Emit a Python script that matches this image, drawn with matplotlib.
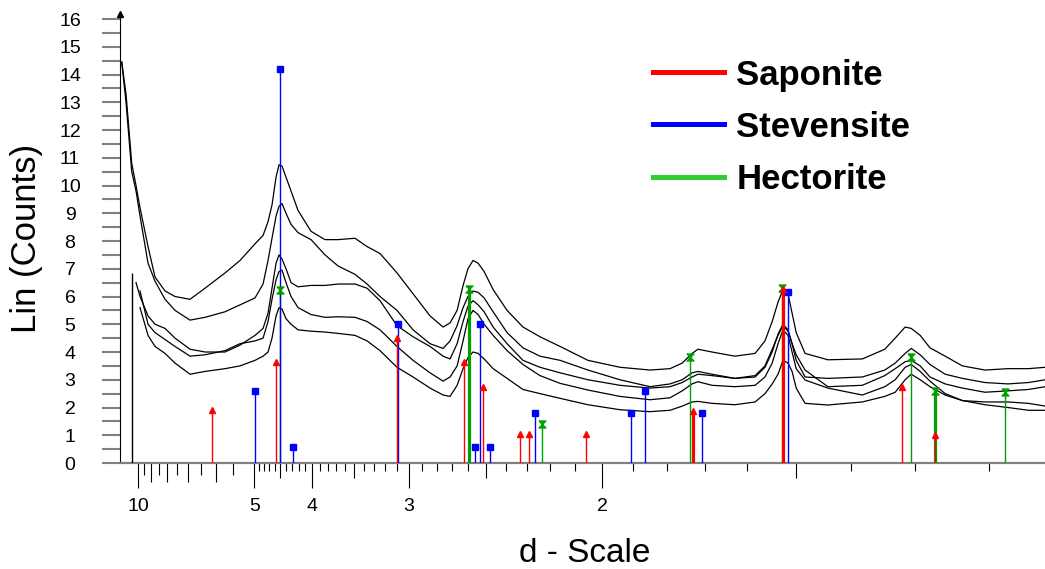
import numpy as np
import matplotlib.pyplot as plt
from matplotlib.lines import Line2D

plt.rcParams['font.family'] = ['Liberation Sans', 'DejaVu Sans']

nan = np.nan

d_grid = [
    11.670, 11.186, 10.603, 10.202, 9.856, 9.228, 8.741, 8.129, 7.597, 6.917,
    6.349, 5.723, 5.328, 4.985, 4.819, 4.721, 4.646, 4.572, 4.519, 4.467,
    4.399, 4.317, 4.207, 4.018, 3.832, 3.674, 3.487, 3.365, 3.243, 3.096,
    2.969, 2.845, 2.757, 2.712, 2.668, 2.632, 2.603, 2.574, 2.545, 2.512,
    2.464, 2.393, 2.317, 2.241, 2.157, 2.051, 1.941, 1.848, 1.791, 1.758,
    1.732, 1.717, 1.682, 1.628, 1.583, 1.562, 1.547, 1.535, 1.525, 1.515,
    1.507, 1.499, 1.482, 1.440, 1.381, 1.345, 1.329, 1.314, 1.305, 1.292,
    1.278, 1.257, 1.234, 1.205, 1.177, 1.153, 1.134,
]

scan_1 = [
    14.45, 13.3, 10.8, 10.0, 9.2, 7.8, 6.7, 6.2, 6.0, 5.9,
    6.3, 6.85, 7.3, 7.9, 8.2, 8.7, 9.3, 10.3, 10.75, 10.7,
    10.3, 9.8, 9.1, 8.35, 8.05, 8.05, 8.1, 7.8, 7.55, 6.85,
    6.1, 5.3, 4.9, 5.05, 5.5, 6.4, 7.0, 7.3, 7.2, 6.9,
    6.25, 5.5, 4.9, 4.55, 4.2, 3.7, 3.45, 3.35, 3.4, 3.6,
    3.95, 4.1, 4.0, 3.85, 3.95, 4.4, 5.1, 5.8, 6.25, 6.1,
    5.4, 4.7, 3.95, 3.72, 3.75, 4.1, 4.5, 4.9, 4.85, 4.6,
    4.15, 3.85, 3.5, 3.35, 3.4, 3.4, 3.45,
]
scan_2 = [
    14.45, 13.0, 10.5, 9.8, 8.9, 7.2, 6.55, 5.9, 5.5, 5.15,
    5.25, 5.45, 5.7, 5.95, 6.45, 7.3, 8.1, 8.9, 9.25, 9.35,
    9.0, 8.6, 8.3, 8.05, 7.5, 7.1, 6.8, 6.45, 6.0, 5.5,
    4.8, 4.3, 4.13, 4.4, 4.95, 5.6, 6.0, 6.2, 6.15, 5.95,
    5.45, 4.7, 4.15, 3.85, 3.7, 3.35, 3.0, 2.75, 2.85, 3.0,
    3.25, 3.3, 3.2, 3.05, 3.1, 3.45, 4.0, 4.65, 5.0, 4.8,
    4.3, 3.7, 3.1, 3.05, 3.1, 3.35, 3.6, 3.95, 4.13, 3.9,
    3.55, 3.2, 3.05, 2.9, 2.85, 2.9, 3.0,
]
scan_3 = [
    nan, nan, nan, 6.5, 6.0, 5.3, 5.0, 4.85, 4.5, 4.1,
    4.0, 4.0, 4.25, 4.6, 4.85, 5.4, 6.3, 7.2, 7.5, 7.35,
    7.0, 6.5, 6.35, 6.4, 6.4, 6.45, 6.45, 6.3, 5.85, 4.95,
    4.55, 4.2, 3.85, 3.75, 4.3, 5.1, 5.65, 5.85, 5.7, 5.45,
    4.9, 4.3, 3.7, 3.45, 3.25, 3.0, 2.8, 2.7, 2.75, 2.9,
    3.1, 3.2, 3.15, 3.05, 3.15, 3.5, 4.1, 4.6, 4.95, 4.75,
    4.3, 3.9, 3.35, 2.75, 2.8, 3.15, 3.4, 3.65, 3.7, 3.5,
    3.1, 2.85, 2.7, 2.55, 2.6, 2.65, 2.75,
]
scan_4 = [
    nan, nan, nan, nan, 6.2, 5.0, 4.7, 4.45, 4.2, 3.85,
    3.9, 4.05, 4.3, 4.4, 4.5, 5.1, 5.9, 6.6, 6.9, 6.95,
    6.5, 6.0, 5.6, 5.35, 5.25, 5.27, 5.25, 5.1, 4.8, 4.2,
    3.7, 3.25, 2.95, 3.1, 3.5, 4.4, 5.2, 5.5, 5.35, 5.0,
    4.6, 4.05, 3.55, 3.15, 2.87, 2.63, 2.4, 2.28, 2.35, 2.6,
    2.85, 2.93, 2.8, 2.75, 2.8, 3.1, 3.6, 4.3, 4.8, 4.6,
    4.0, 3.4, 2.99, 2.7, 2.45, 2.75, 3.0, 3.45, 3.55, 3.3,
    2.95, 2.5, 2.25, 2.2, 2.2, 2.15, 2.05,
]
scan_5 = [
    nan, nan, nan, nan, 5.6, 4.6, 4.2, 3.95, 3.6, 3.2,
    3.3, 3.4, 3.5, 3.7, 3.85, 4.0, 4.5, 5.3, 5.6, 5.55,
    5.2, 5.0, 4.8, 4.75, 4.72, 4.67, 4.6, 4.4, 4.05, 3.45,
    3.1, 2.7, 2.45, 2.4, 2.8, 3.4, 3.8, 4.0, 3.95, 3.75,
    3.4, 3.05, 2.65, 2.5, 2.33, 2.1, 1.92, 1.85, 1.9, 2.05,
    2.2, 2.22, 2.15, 2.1, 2.2, 2.5, 2.85, 3.2, 3.7, 3.6,
    3.3, 2.7, 2.15, 2.09, 2.2, 2.4, 2.55, 3.0, 3.2, 3.0,
    2.75, 2.45, 2.25, 2.1, 2.0, 1.9, 1.9,
]
scans = [scan_1, scan_2, scan_3, scan_4, scan_5]

# reference stick patterns: d (Angstrom) and height (counts)
saponite_d = [6.105, 4.567, 3.093, 2.624, 2.520, 2.332, 2.288, 2.059, 1.730, 1.5255, 1.319, 1.271]
saponite_h = [1.9, 3.64, 4.5, 3.63, 2.75, 1.03, 1.03, 1.03, 1.89, 6.26, 2.75, 1.0]
stevensite_d = [4.979, 4.507, 4.28, 3.090, 2.561, 2.533, 2.482, 2.264, 1.905, 1.864, 1.706, 1.515]
stevensite_h = [2.6, 14.2, 0.59, 5.0, 0.59, 5.0, 0.59, 1.79, 1.79, 2.61, 1.79, 6.17]
hectorite_d = [4.50, 2.599, 2.233, 1.7365, 1.526, 1.305, 1.271, 1.180]
hectorite_h = [6.25, 6.26, 1.39, 3.81, 6.3, 3.81, 2.6, 2.57]
other_d = [10.574]
other_h = [6.85]

phase_names = ['Saponite', 'Stevensite', 'Hectorite']

# d-scale ticks
major_d = [10, 5, 4, 3, 2]
major_labels = ['10', '5', '4', '3', '2']
mid_d = [9, 8, 7, 6]
half_d = [4.5, 3.5, 2.5, 1.5]
fine_d = [9.5, 8.5, 7.5, 6.5, 5.5]
tenth_d = [4.9, 4.8, 4.7, 4.6, 4.4, 4.3, 4.2, 4.1, 3.9, 3.8, 3.7, 3.6, 3.4, 3.3,
           3.2, 3.1, 2.9, 2.8, 2.7, 2.6, 2.4, 2.3, 2.2, 2.1, 1.9, 1.8, 1.7, 1.6,
           1.4, 1.3, 1.2]


def inv(d):
    # the scale is linear in 1/d
    return 1.0 / np.asarray(d, dtype=float)


fig = plt.figure(figsize=(10.45, 5.69), dpi=100)
ax = fig.add_axes([120 / 1045, 106 / 569, 925 / 1045, 449.5 / 569])

for s in scans:
    ax.plot(inv(d_grid), s, color='black', lw=0.9, zorder=2)


def sticks(d, h, color, marker, ms, wide=()):
    x = inv(d)
    lws = [2.3 if v in wide else 1.0 for v in d]
    ax.vlines(x, 0, h, colors=color, linewidths=lws, zorder=3)
    if marker is not None:
        ax.plot(x, h, ls='none', marker=marker, ms=ms, color=color,
                mec=color, zorder=4, clip_on=False)


hourglass = [(-1, 1), (1, 1), (-1, -1), (1, -1), (-1, 1)]
sticks(other_d, other_h, 'black', None, 0)
sticks(hectorite_d, hectorite_h, '#00a000', hourglass, 5, wide=(2.599, 1.271))
sticks(stevensite_d, stevensite_h, '#0000ff', 's', 4)
sticks(saponite_d, saponite_h, '#ff0000', '^', 5, wide=(1.730, 1.5255))

ax.set_xlim(0.0842, 0.8816)
ax.set_ylim(0, 16.2)

# x ticks in several lengths
ax.set_xticks(inv(major_d))
ax.set_xticklabels(major_labels)
ax.set_xticks(inv(tenth_d), minor=True)
ax.tick_params(axis='x', which='major', direction='out', length=18, width=0.8,
               color='black', pad=7, labelsize=14)
ax.tick_params(axis='x', which='minor', direction='out', length=5.8, width=0.8,
               color='black')

sec1 = ax.secondary_xaxis('bottom', functions=(lambda v: v, lambda v: v))
sec1.set_xticks(inv(mid_d))
sec1.set_xticks(inv(half_d), minor=True)
sec1.tick_params(axis='x', which='major', direction='out', length=13.7, width=0.8,
                 color='black', labelbottom=False)
sec1.tick_params(axis='x', which='minor', direction='out', length=10.8, width=0.8,
                 color='black', labelbottom=False)
sec1.spines['bottom'].set_visible(False)

sec2 = ax.secondary_xaxis('bottom', functions=(lambda v: v, lambda v: v))
sec2.set_xticks(inv(fine_d))
sec2.tick_params(axis='x', which='major', direction='out', length=8.6, width=0.8,
                 color='black', labelbottom=False)
sec2.spines['bottom'].set_visible(False)

# y ticks
ax.set_yticks(np.arange(0, 17, 1))
ax.set_yticks(np.arange(0.5, 16, 1), minor=True)
ax.tick_params(axis='y', which='both', direction='out', length=13, width=1.5,
               color='#808080', pad=23, labelsize=14)
for lbl in ax.get_yticklabels():
    lbl.set_horizontalalignment('center')

for side in ['top', 'right']:
    ax.spines[side].set_visible(False)
ax.spines['left'].set_color('black')
ax.spines['left'].set_linewidth(0.8)
ax.spines['bottom'].set_color('#808080')
ax.spines['bottom'].set_linewidth(1.6)

# arrow head on the intensity axis
ax.plot([0], [1], marker='^', ms=4, color='black', transform=ax.transAxes,
        clip_on=False)

fig.text(27 / 1045, 1 - 238 / 569, 'Lin (Counts)', rotation=90,
         ha='center', va='center', fontsize=25)
fig.text(585 / 1045, 1 - 553 / 569, 'd - Scale', ha='center', va='center',
         fontsize=24)

legend_colors = ['#ff0000', '#0000ff', '#33cc33']
handles = [Line2D([], [], color=c, lw=3.6) for c in legend_colors]
ax.legend(handles, phase_names, loc='upper left',
          bbox_to_anchor=(653 / 1045, 1 - 58.5 / 569), bbox_transform=fig.transFigure,
          frameon=False, prop={'size': 25, 'weight': 'bold'},
          handlelength=2.05, handletextpad=0.35, labelspacing=0.55,
          borderpad=0, borderaxespad=0)

fig.savefig('out.png', dpi=100)
